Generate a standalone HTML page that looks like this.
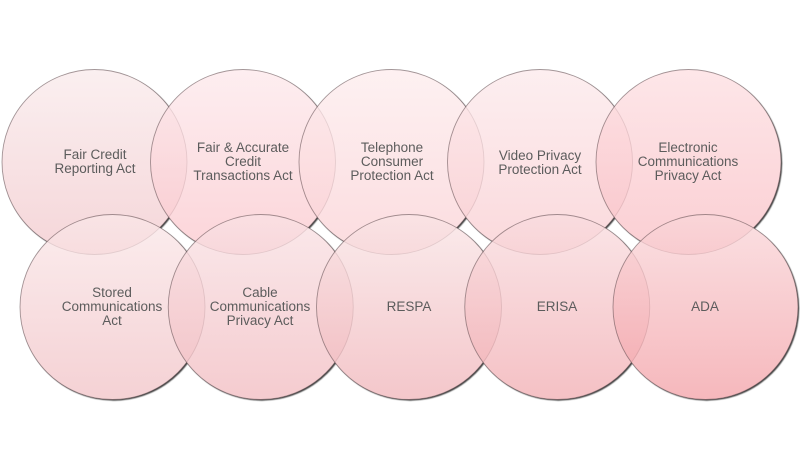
<!DOCTYPE html>
<html>
<head>
<meta charset="utf-8">
<style>
  html,body{margin:0;padding:0;background:#fff;}
  body{width:800px;height:469px;overflow:hidden;}
  svg{display:block;}
  text{font-family:"Liberation Sans",Arial,sans-serif;font-size:13.5px;fill:#5c5c5c;text-anchor:middle;}
</style>
</head>
<body>
<svg width="800" height="469" viewBox="0 0 800 469" xmlns="http://www.w3.org/2000/svg">
  <defs>
    <linearGradient id="g1" x1="0" y1="0" x2="0" y2="1"><stop offset="0" stop-color="rgb(249,234,235)" stop-opacity="0.75"/><stop offset="1" stop-color="rgb(242,200,204)" stop-opacity="0.75"/></linearGradient>
    <linearGradient id="g2" x1="0" y1="0" x2="0" y2="1"><stop offset="0" stop-color="rgb(253,232,235)" stop-opacity="0.75"/><stop offset="1" stop-color="rgb(250,198,204)" stop-opacity="0.75"/></linearGradient>
    <linearGradient id="g3" x1="0" y1="0" x2="0" y2="1"><stop offset="0" stop-color="rgb(253,236,237)" stop-opacity="0.75"/><stop offset="1" stop-color="rgb(250,208,212)" stop-opacity="0.75"/></linearGradient>
    <linearGradient id="g4" x1="0" y1="0" x2="0" y2="1"><stop offset="0" stop-color="rgb(252,233,235)" stop-opacity="0.75"/><stop offset="1" stop-color="rgb(249,204,208)" stop-opacity="0.75"/></linearGradient>
    <linearGradient id="g5" x1="0" y1="0" x2="0" y2="1"><stop offset="0" stop-color="rgb(253,222,225)" stop-opacity="0.75"/><stop offset="1" stop-color="rgb(249,190,196)" stop-opacity="0.75"/></linearGradient>
    <linearGradient id="g6" x1="0" y1="0" x2="0" y2="1"><stop offset="0" stop-color="rgb(250,231,232)" stop-opacity="0.75"/><stop offset="1" stop-color="rgb(241,194,198)" stop-opacity="0.75"/></linearGradient>
    <linearGradient id="g7" x1="0" y1="0" x2="0" y2="1"><stop offset="0" stop-color="rgb(249,225,228)" stop-opacity="0.75"/><stop offset="1" stop-color="rgb(241,186,191)" stop-opacity="0.75"/></linearGradient>
    <linearGradient id="g8" x1="0" y1="0" x2="0" y2="1"><stop offset="0" stop-color="rgb(249,228,229)" stop-opacity="0.75"/><stop offset="1" stop-color="rgb(240,180,185)" stop-opacity="0.75"/></linearGradient>
    <linearGradient id="g9" x1="0" y1="0" x2="0" y2="1"><stop offset="0" stop-color="rgb(249,220,223)" stop-opacity="0.75"/><stop offset="1" stop-color="rgb(241,172,177)" stop-opacity="0.75"/></linearGradient>
    <linearGradient id="g10" x1="0" y1="0" x2="0" y2="1"><stop offset="0" stop-color="rgb(249,214,217)" stop-opacity="0.75"/><stop offset="1" stop-color="rgb(243,160,166)" stop-opacity="0.75"/></linearGradient>
    <filter id="blur" x="-10%" y="-10%" width="120%" height="120%"><feGaussianBlur stdDeviation="0.6"/></filter>
  </defs>

  <!-- shadow layer -->
  <g fill="#444" filter="url(#blur)" transform="translate(1.2,1.2)">
    <circle cx="94.5" cy="162" r="92.5"/><circle cx="243" cy="162" r="92.5"/><circle cx="391.5" cy="162" r="92.5"/><circle cx="540" cy="162" r="92.5"/><circle cx="688.5" cy="162" r="92.5"/>
    <circle cx="112.5" cy="307" r="92.5"/><circle cx="260.75" cy="307" r="92.5"/><circle cx="409" cy="307" r="92.5"/><circle cx="557.25" cy="307" r="92.5"/><circle cx="705.5" cy="307" r="92.5"/>
  </g>
  <!-- white underlay -->
  <g fill="#fff">
    <circle cx="94.5" cy="162" r="92.5"/><circle cx="243" cy="162" r="92.5"/><circle cx="391.5" cy="162" r="92.5"/><circle cx="540" cy="162" r="92.5"/><circle cx="688.5" cy="162" r="92.5"/>
    <circle cx="112.5" cy="307" r="92.5"/><circle cx="260.75" cy="307" r="92.5"/><circle cx="409" cy="307" r="92.5"/><circle cx="557.25" cy="307" r="92.5"/><circle cx="705.5" cy="307" r="92.5"/>
  </g>
  <!-- pink translucent circles -->
  <g stroke="rgba(90,70,72,0.55)" stroke-width="0.9">
    <circle cx="94.5" cy="162" r="92.5" fill="url(#g1)"/>
    <circle cx="243" cy="162" r="92.5" fill="url(#g2)"/>
    <circle cx="391.5" cy="162" r="92.5" fill="url(#g3)"/>
    <circle cx="540" cy="162" r="92.5" fill="url(#g4)"/>
    <circle cx="688.5" cy="162" r="92.5" fill="url(#g5)"/>
    <circle cx="112.5" cy="307" r="92.5" fill="url(#g6)"/>
    <circle cx="260.75" cy="307" r="92.5" fill="url(#g7)"/>
    <circle cx="409" cy="307" r="92.5" fill="url(#g8)"/>
    <circle cx="557.25" cy="307" r="92.5" fill="url(#g9)"/>
    <circle cx="705.5" cy="307" r="92.5" fill="url(#g10)"/>
  </g>

  <!-- labels -->
  <text x="95" y="159">Fair Credit</text>
  <text x="95" y="173">Reporting Act</text>

  <text x="243" y="152">Fair &amp; Accurate</text>
  <text x="243" y="166">Credit</text>
  <text x="243" y="180">Transactions Act</text>

  <text x="392" y="152">Telephone</text>
  <text x="392" y="166">Consumer</text>
  <text x="392" y="180">Protection Act</text>

  <text x="540" y="160">Video Privacy</text>
  <text x="540" y="174">Protection Act</text>

  <text x="688" y="152">Electronic</text>
  <text x="688" y="166">Communications</text>
  <text x="688" y="180">Privacy Act</text>

  <text x="112" y="297">Stored</text>
  <text x="112" y="311">Communications</text>
  <text x="112" y="325">Act</text>

  <text x="260" y="297">Cable</text>
  <text x="260" y="311">Communications</text>
  <text x="260" y="325">Privacy Act</text>

  <text x="409" y="311">RESPA</text>
  <text x="557" y="311">ERISA</text>
  <text x="705" y="311">ADA</text>
</svg>
</body>
</html>
